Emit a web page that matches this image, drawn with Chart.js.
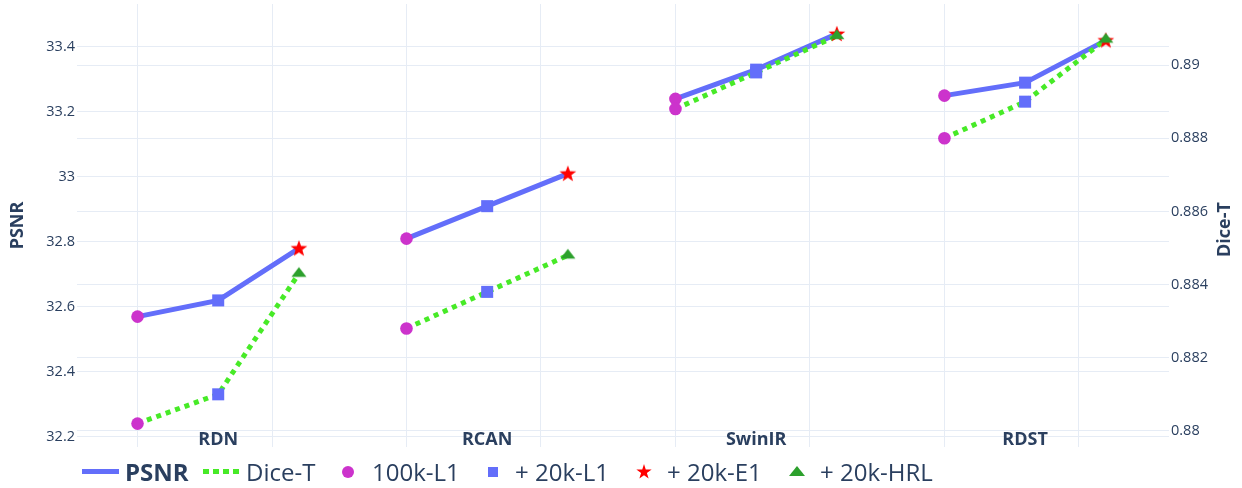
<!DOCTYPE html>
<html>
<head>
<meta charset="utf-8">
<script src="https://cdn.jsdelivr.net/npm/chart.js@4.4.1/dist/chart.umd.min.js"></script>
<style>
  body { margin: 0; background: #fff; font-family: "Open Sans", sans-serif; }
  #wrap { position: relative; width: 1242px; height: 488px; }
  #legend { position: absolute; left: 0; top: 457px; width: 1242px; height: 30px; }
  .sym { position: absolute; }
  .txt { position: absolute; top: 0; line-height: 30px; font-size: 24px; color: #2a3f5f; white-space: nowrap; }
</style>
</head>
<body>
<div id="wrap">
  <canvas id="chart" width="1242" height="488"></canvas>
  <div id="legend"></div>
</div>
<script>
// values
const groups = ['RDN', 'RCAN', 'SwinIR', 'RDST'];
const psnrBase = [32.57, 32.81, 33.24, 33.25];   // 100k-L1
const psnrL1   = [32.62, 32.91, 33.33, 33.29];   // + 20k-L1
const psnrE1   = [32.78, 33.01, 33.44, 33.42];   // + 20k-E1
const diceBase = [0.8802, 0.8828, 0.8888, 0.8880];
const diceL1   = [0.8810, 0.8838, 0.8898, 0.8890];
const diceHRL  = [0.8843, 0.8848, 0.8908, 0.8907];

const blue = '#636efa';
const lime = '#47ea27';
const magenta = '#cc33cc';
const red = '#ff0000';
const green = '#2ca02c';
const textCol = '#2a3f5f';
const gridCol = '#e6ecf5';

// x position of each step inside a group (groups sit 2 units apart)
const step = [0, 0.6, 1.2];
const gx = (i, j) => i * 2 + step[j];

function linePoints(a, b, c) {
  const pts = [];
  for (let i = 0; i < groups.length; i++) {
    pts.push({x: gx(i, 0), y: a[i]}, {x: gx(i, 1), y: b[i]}, {x: gx(i, 2), y: c[i]});
    pts.push({x: gx(i, 2) + 0.4, y: null}); // break between groups
  }
  return pts;
}
const pointsAt = (vals, j) => vals.map((v, i) => ({x: gx(i, j), y: v}));

// filled star and plotly-like triangle as point images
function starImg(col) {
  const c = document.createElement('canvas');
  c.width = 20; c.height = 20;
  const g = c.getContext('2d');
  g.fillStyle = col;
  g.beginPath();
  for (let k = 0; k < 10; k++) {
    const r = k % 2 ? 3.6 : 8.8;
    const a = -Math.PI / 2 + k * Math.PI / 5;
    const px = 10 + r * Math.cos(a), py = 10.5 + r * Math.sin(a);
    k ? g.lineTo(px, py) : g.moveTo(px, py);
  }
  g.closePath(); g.fill();
  return c;
}
function triImg(col) {
  const c = document.createElement('canvas');
  c.width = 18; c.height = 18;
  const g = c.getContext('2d');
  const r = 6.5, rt = r * 2 / Math.sqrt(3);
  g.fillStyle = col;
  g.beginPath();
  g.moveTo(9 - rt, 9 + r / 2);
  g.lineTo(9 + rt, 9 + r / 2);
  g.lineTo(9, 9 - r);
  g.closePath(); g.fill();
  return c;
}
const star = starImg(red);
const tri = triImg(green);

const fmt = v => String(+v.toFixed(4));

// right axis title reads bottom-to-top like the left one
const rightTitle = {
  id: 'rightTitle',
  afterDraw(chart) {
    const {ctx, chartArea} = chart;
    const s = chart.scales.y1;
    ctx.save();
    ctx.translate(s.right - 17, (chartArea.top + chartArea.bottom) / 2 + 4);
    ctx.rotate(-Math.PI / 2);
    ctx.font = 'bold 18px "Open Sans"';
    ctx.fillStyle = textCol;
    ctx.textAlign = 'center';
    ctx.textBaseline = 'middle';
    ctx.fillText('Dice-T', 0, 0);
    ctx.restore();
  }
};

new Chart(document.getElementById('chart'), {
  type: 'scatter',
  data: {
    datasets: [
      { label: 'PSNR', data: linePoints(psnrBase, psnrL1, psnrE1), yAxisID: 'y', showLine: true,
        borderColor: blue, borderWidth: 5, pointRadius: 0, spanGaps: false, order: 10 },
      { label: 'Dice-T', data: linePoints(diceBase, diceL1, diceHRL), yAxisID: 'y1', showLine: true,
        borderColor: lime, borderWidth: 5, borderDash: [5, 5], pointRadius: 0, spanGaps: false, order: 9 },
      { label: '100k-L1', data: pointsAt(psnrBase, 0), yAxisID: 'y', pointStyle: 'circle',
        pointRadius: 6.3, backgroundColor: magenta, borderWidth: 0, order: 6 },
      { label: '100k-L1', data: pointsAt(diceBase, 0), yAxisID: 'y1', pointStyle: 'circle',
        pointRadius: 6.3, backgroundColor: magenta, borderWidth: 0, order: 5 },
      { label: '+ 20k-L1', data: pointsAt(psnrL1, 1), yAxisID: 'y', pointStyle: 'rect',
        pointRadius: 8.5, backgroundColor: blue, borderWidth: 0, order: 4 },
      { label: '+ 20k-L1', data: pointsAt(diceL1, 1), yAxisID: 'y1', pointStyle: 'rect',
        pointRadius: 8.5, backgroundColor: blue, borderWidth: 0, order: 3 },
      { label: '+ 20k-E1', data: pointsAt(psnrE1, 2), yAxisID: 'y', pointStyle: star,
        pointRadius: 8, order: 2 },
      { label: '+ 20k-HRL', data: pointsAt(diceHRL, 2), yAxisID: 'y1', pointStyle: tri,
        pointRadius: 8, order: 1 }
    ]
  },
  options: {
    responsive: false,
    animation: false,
    devicePixelRatio: 1,
    layout: { autoPadding: false, padding: { top: 4, left: 0, right: 0, bottom: 0 } },
    plugins: { legend: { display: false }, tooltip: { enabled: false } },
    scales: {
      x: {
        type: 'linear', min: -0.45, max: 7.67,
        afterBuildTicks: axis => {
          const t = [];
          for (let k = 0; k <= 7; k++) t.push({value: k});
          groups.forEach((g, i) => t.push({value: gx(i, 1)}));
          axis.ticks = t.sort((a, b) => a.value - b.value);
        },
        afterFit: s => { s.height = 41; s.paddingLeft = 0; s.paddingRight = 0; },
        grid: {
          color: c => (c.tick && Number.isInteger(c.tick.value)) ? gridCol : 'rgba(0,0,0,0)',
          lineWidth: 1, drawTicks: false
        },
        border: { display: false },
        ticks: {
          autoSkip: false, maxRotation: 0, mirror: true, padding: -4,
          color: textCol, font: { family: 'Open Sans', size: 18, weight: 'bold' },
          callback: v => {
            const i = Math.round((v - step[1]) / 2);
            return (i >= 0 && i < groups.length && Math.abs(v - gx(i, 1)) < 1e-6) ? groups[i] : '';
          }
        }
      },
      y: {
        position: 'left', min: 32.169, max: 33.532,
        afterFit: s => { s.width = 77; s.paddingTop = 0; s.paddingBottom = 0; },
        grid: { color: gridCol, lineWidth: 1, drawTicks: false },
        border: { display: false },
        ticks: { stepSize: 0.2, includeBounds: false, padding: 2, color: textCol,
                 font: { family: 'Open Sans', size: 14.5 }, callback: fmt },
        title: { display: true, text: 'PSNR', color: textCol, padding: { top: 7, bottom: 0 },
                 font: { family: 'Open Sans', size: 18, weight: 'bold' } }
      },
      y1: {
        position: 'right', min: 0.87956, max: 0.89167,
        afterFit: s => { s.width = 73; s.paddingTop = 0; s.paddingBottom = 0; },
        grid: { color: gridCol, lineWidth: 1, drawTicks: false },
        border: { display: false },
        ticks: { stepSize: 0.002, includeBounds: false, padding: 2, color: textCol,
                 font: { family: 'Open Sans', size: 14.5 }, callback: fmt }
      }
    }
  },
  plugins: [rightTitle]
});

// legend row under the plot
const legendItems = [
  { label: 'PSNR', sym: 'solid', col: blue, sx: 82, tx: 125, bold: true },
  { label: 'Dice-T', sym: 'dot', col: lime, sx: 203, tx: 246 },
  { label: '100k-L1', sym: 'circle', col: magenta, sx: 348, tx: 372 },
  { label: '+ 20k-L1', sym: 'square', col: blue, sx: 493, tx: 515 },
  { label: '+ 20k-E1', sym: 'star', col: red, sx: 644, tx: 667 },
  { label: '+ 20k-HRL', sym: 'tri', col: green, sx: 797, tx: 820 }
];
const leg = document.getElementById('legend');
legendItems.forEach(it => {
  const s = document.createElement('div');
  s.className = 'sym';
  if (it.sym === 'solid' || it.sym === 'dot') {
    Object.assign(s.style, { left: it.sx + 'px', top: '12px', width: '37px', height: '5px' });
    s.style.background = it.sym === 'solid' ? it.col
      : `repeating-linear-gradient(to right, ${it.col} 0 6px, transparent 6px 10px)`;
  } else if (it.sym === 'circle') {
    Object.assign(s.style, { left: (it.sx - 6) + 'px', top: '9px', width: '12px', height: '12px',
      borderRadius: '50%', background: it.col });
  } else if (it.sym === 'square') {
    Object.assign(s.style, { left: (it.sx - 5) + 'px', top: '10px', width: '10px', height: '10px', background: it.col });
  } else if (it.sym === 'star') {
    Object.assign(s.style, { left: (it.sx - 8) + 'px', top: '7px', width: '16px', height: '16px', background: it.col,
      clipPath: 'polygon(50% 0%, 61% 35%, 98% 35%, 68% 57%, 79% 91%, 50% 70%, 21% 91%, 32% 57%, 2% 35%, 39% 35%)' });
  } else {
    Object.assign(s.style, { left: (it.sx - 8) + 'px', top: '9px', width: '16px', height: '10px', background: it.col,
      clipPath: 'polygon(50% 0, 100% 100%, 0 100%)' });
  }
  leg.appendChild(s);
  const t = document.createElement('span');
  t.className = 'txt';
  t.textContent = it.label;
  t.style.left = it.tx + 'px';
  if (it.bold) t.style.fontWeight = 'bold';
  leg.appendChild(t);
});
</script>
</body>
</html>
